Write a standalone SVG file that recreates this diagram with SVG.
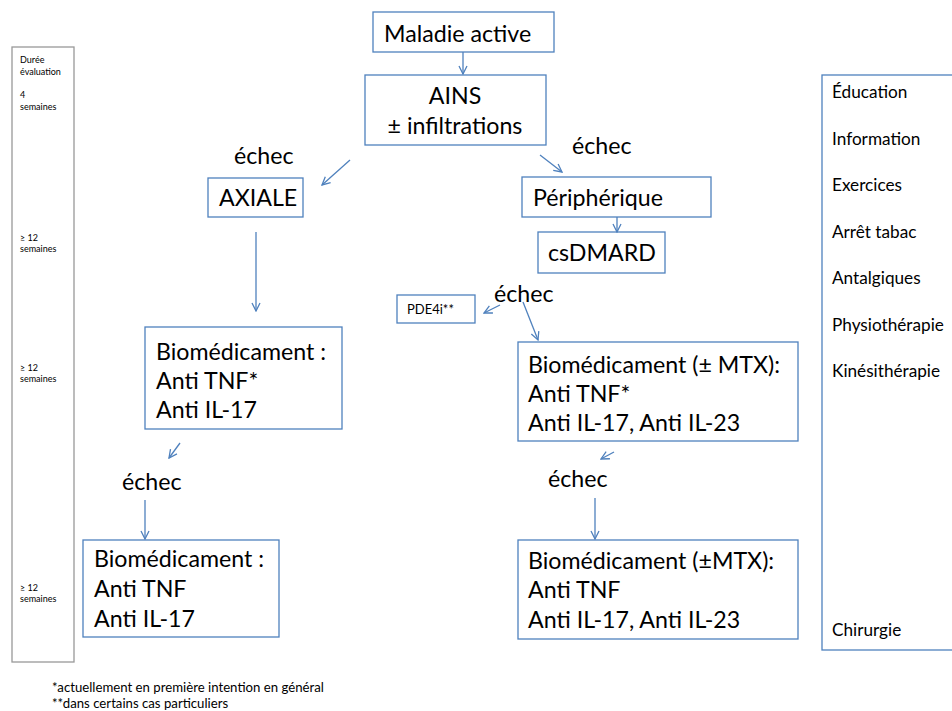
<svg xmlns="http://www.w3.org/2000/svg" width="952" height="711" viewBox="0 0 952 711">
<defs>
<marker id="v" viewBox="0 0 10 10" refX="9" refY="5" markerWidth="10" markerHeight="10" markerUnits="userSpaceOnUse" orient="auto">
<path d="M1,1 L9,5 L1,9" fill="none" stroke="#4F81BD" stroke-width="1.3"/>
</marker>
</defs>
<style>
text{font-family:Lato,"Liberation Sans",sans-serif;fill:#000}
.b{fill:#fff;stroke:#4F81BD;stroke-width:1.3}
.g{fill:#fff;stroke:#999;stroke-width:1.3}
.t{font-size:23.2px}
.m{font-size:17.2px}
.s{font-size:9px}
.f{font-size:13.2px}
.p{font-size:13px}
.c line{stroke:#4F81BD;stroke-width:1.3;marker-end:url(#v)}
</style>
<rect width="952" height="711" fill="#fff"/>

<g id="duree">
<rect class="g" x="12" y="47" width="62" height="615"/>
<text class="s" x="20" y="63">Durée</text>
<text class="s" x="20" y="75">évaluation</text>
<text class="s" x="20" y="98">4</text>
<text class="s" x="20" y="110">semaines</text>
<text class="s" x="20" y="241">≥ 12</text>
<text class="s" x="20" y="252">semaines</text>
<text class="s" x="20" y="371">≥ 12</text>
<text class="s" x="20" y="382">semaines</text>
<text class="s" x="20" y="591">≥ 12</text>
<text class="s" x="20" y="602">semaines</text>
</g>

<g id="maladie">
<rect class="b" x="373" y="12" width="181" height="40"/>
<text class="t" x="384" y="42">Maladie active</text>
</g>

<g id="ains">
<rect class="b" x="365" y="75" width="181" height="70"/>
<text class="t" x="455" y="104" text-anchor="middle">AINS</text>
<text class="t" x="455" y="134" text-anchor="middle">± infiltrations</text>
</g>

<g id="echec1"><text class="t" x="234" y="164">échec</text></g>
<g id="echec2"><text class="t" x="572" y="154">échec</text></g>

<g id="axiale">
<rect class="b" x="208" y="178" width="95" height="39"/>
<text class="t" x="219" y="206">AXIALE</text>
</g>

<g id="peripherique">
<rect class="b" x="522" y="177" width="189" height="40"/>
<text class="t" x="533" y="206">Périphérique</text>
</g>

<g id="csdmard">
<rect class="b" x="538" y="232" width="127" height="41"/>
<text class="t" x="548" y="261">csDMARD</text>
</g>

<g id="pde4i">
<rect class="b" x="397" y="295" width="78" height="28"/>
<text class="p" x="407" y="314">PDE4i**</text>
</g>

<g id="echec3"><text class="t" x="494" y="302">échec</text></g>

<g id="bio1">
<rect class="b" x="145" y="327" width="197" height="102"/>
<text class="t" x="156" y="360">Biomédicament :</text>
<text class="t" x="156" y="389">Anti TNF*</text>
<text class="t" x="156" y="418">Anti IL-17</text>
</g>

<g id="bio2">
<rect class="b" x="518" y="342" width="280" height="99"/>
<text class="t" x="528" y="373">Biomédicament (± MTX):</text>
<text class="t" x="528" y="402">Anti TNF*</text>
<text class="t" x="528" y="431">Anti IL-17, Anti IL-23</text>
</g>

<g id="echec4"><text class="t" x="122" y="490">échec</text></g>
<g id="echec5"><text class="t" x="548" y="487">échec</text></g>

<g id="bio3">
<rect class="b" x="83" y="540" width="196" height="97"/>
<text class="t" x="94" y="567">Biomédicament :</text>
<text class="t" x="94" y="597">Anti TNF</text>
<text class="t" x="94" y="627">Anti IL-17</text>
</g>

<g id="bio4">
<rect class="b" x="518" y="540" width="280" height="99"/>
<text class="t" x="528" y="569">Biomédicament (±MTX):</text>
<text class="t" x="528" y="598">Anti TNF</text>
<text class="t" x="528" y="628">Anti IL-17, Anti IL-23</text>
</g>

<g id="mesures">
<rect class="b" x="822" y="75" width="140" height="575"/>
<text class="m" x="832" y="98">Éducation</text>
<text class="m" x="832" y="145">Information</text>
<text class="m" x="832" y="191">Exercices</text>
<text class="m" x="832" y="238">Arrêt tabac</text>
<text class="m" x="832" y="284">Antalgiques</text>
<text class="m" x="832" y="331">Physiothérapie</text>
<text class="m" x="832" y="377">Kinésithérapie</text>
<text class="m" x="832" y="636">Chirurgie</text>
</g>

<g id="notes">
<text class="f" x="52" y="692">*actuellement en première intention en général</text>
<text class="f" x="52" y="708">**dans certains cas particuliers</text>
</g>

<g id="connectors" class="c">
<line x1="463" y1="52" x2="463" y2="74"/>
<line x1="350" y1="160" x2="322" y2="185"/>
<line x1="540" y1="155" x2="562" y2="172"/>
<line x1="617" y1="217" x2="617" y2="232"/>
<line x1="256" y1="232" x2="256" y2="311"/>
<line x1="500" y1="305" x2="484" y2="313"/>
<line x1="523" y1="302" x2="538" y2="340"/>
<line x1="180" y1="443" x2="169" y2="458"/>
<line x1="145" y1="500" x2="145" y2="539"/>
<line x1="614" y1="452" x2="601" y2="459"/>
<line x1="595" y1="498" x2="595" y2="539"/>
</g>
</svg>
